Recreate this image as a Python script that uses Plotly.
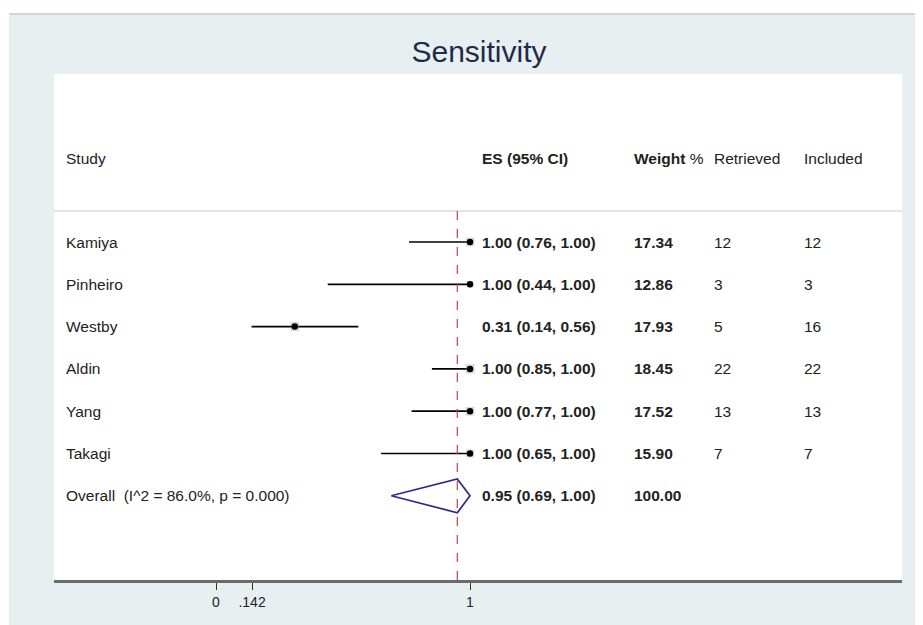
import plotly.graph_objects as go

# ---- data ----
studies = ["Kamiya", "Pinheiro", "Westby", "Aldin", "Yang", "Takagi"]
es = [1.00, 1.00, 0.31, 1.00, 1.00, 1.00]
ci_low = [0.76, 0.44, 0.14, 0.85, 0.77, 0.65]
ci_high = [1.00, 1.00, 0.56, 1.00, 1.00, 1.00]
weights = [17.34, 12.86, 17.93, 18.45, 17.52, 15.90]
retrieved = [12, 3, 5, 22, 13, 7]
included = [12, 3, 16, 22, 13, 7]
overall_label = "Overall  (I^2 = 86.0%, p = 0.000)"
overall_es = 0.95
overall_low = 0.69
overall_high = 1.00
overall_weight = 100.00
headers = ["Study", "ES (95% CI)", "Weight %", "Retrieved", "Included"]
tick_vals = [0, 0.142, 1]
tick_text = ["0", ".142", "1"]
title = "Sensitivity"

# ---- layout geometry (reference pixel coords; page has 8px body margin) ----
OFF = 8
W, H = 923, 625
L, R, T, B = 54 - OFF, 902 - OFF, 74 - OFF, 580 - OFF
FONT = "Liberation Sans, Arial, Helvetica, sans-serif"
FS = 15.5

x0_px, x1_px = 216 - OFF, 470 - OFF          # pixel positions of 0 and 1
ppu = x1_px - x0_px
xr = [(L - x0_px) / ppu, (R - x0_px) / ppu]

row_px0, row_step = 242 - OFF, 42.3     # first study row pixel & spacing
def px_to_row(p):
    return 1 + (p - OFF - row_px0) / row_step
def px_to_paper_x(p):
    return (p - OFF - L) / (R - L)
def px_to_paper_y(p):
    return (B - (p - OFF)) / (B - T)

yr = [px_to_row(580), px_to_row(74)]

n = len(studies)
rows = list(range(1, n + 1))
overall_row = n + 1
header_row = px_to_row(158)
sep_row = px_to_row(211)

fig = go.Figure()

# CI lines
for i in range(n):
    fig.add_trace(go.Scatter(
        x=[ci_low[i], ci_high[i]], y=[rows[i], rows[i]], mode="lines",
        line=dict(color="black", width=1.7), hoverinfo="skip", showlegend=False))

# weight boxes
fig.add_trace(go.Scatter(
    x=es, y=rows, mode="markers",
    marker=dict(symbol="square", color="rgba(150,150,150,0.5)",
                size=[w * 0.5 for w in weights], line=dict(width=0)),
    hoverinfo="skip", showlegend=False))
# point estimates
fig.add_trace(go.Scatter(
    x=es, y=rows, mode="markers",
    marker=dict(symbol="circle", color="black", size=6.5),
    hoverinfo="skip", showlegend=False))

# overall diamond
fig.add_trace(go.Scatter(
    x=[overall_low, overall_es, overall_high, overall_es, overall_low],
    y=[overall_row, overall_row - 0.4, overall_row, overall_row + 0.4, overall_row],
    mode="lines", line=dict(color="#2a2a8a", width=1.7),
    hoverinfo="skip", showlegend=False))

shapes = [
    # outer light background
    dict(type="rect", xref="paper", yref="paper",
         x0=px_to_paper_x(9), x1=px_to_paper_x(945),
         y0=px_to_paper_y(650), y1=px_to_paper_y(14),
         fillcolor="#e8eff1", line=dict(width=0), layer="below"),
    # white plot panel
    dict(type="rect", xref="paper", yref="paper", x0=0, x1=1, y0=0, y1=1,
         fillcolor="white", line=dict(width=0), layer="below"),
    # top grey rule
    dict(type="line", xref="paper", yref="paper",
         x0=px_to_paper_x(9), x1=px_to_paper_x(945),
         y0=px_to_paper_y(14), y1=px_to_paper_y(14),
         line=dict(color="#cfd6d9", width=2)),
    # header separator
    dict(type="line", xref="paper", yref="y", x0=0, x1=1, y0=sep_row, y1=sep_row,
         line=dict(color="#d8dcdd", width=1.5)),
    # dashed reference line at overall ES
    dict(type="line", xref="x", yref="y", x0=overall_es, x1=overall_es,
         y0=sep_row, y1=yr[0],
         line=dict(color="#c4404f", width=1.2, dash="dash")),
]

annotations = []
def txt(xpx, row, s, size=FS):
    annotations.append(dict(
        x=px_to_paper_x(xpx), xref="paper", y=row, yref="y", text=s,
        showarrow=False, xanchor="left", yanchor="middle",
        font=dict(family=FONT, size=size, color="#222222")))

col_study, col_es, col_w, col_ret, col_inc = 64, 480, 632, 712, 802
txt(col_study, header_row, headers[0])
txt(col_es, header_row, "<b>" + headers[1] + "</b>")
w_word, w_pct = headers[2].split(" ")
txt(col_w, header_row, "<b>" + w_word + "</b> " + w_pct)
txt(col_ret, header_row, headers[3])
txt(col_inc, header_row, headers[4])

for i in range(n):
    txt(col_study, rows[i], studies[i])
    txt(col_es, rows[i], f"<b>{es[i]:.2f} ({ci_low[i]:.2f}, {ci_high[i]:.2f})</b>")
    txt(col_w, rows[i], f"<b>{weights[i]:.2f}</b>")
    txt(col_ret, rows[i], str(retrieved[i]))
    txt(col_inc, rows[i], str(included[i]))

txt(col_study, overall_row, overall_label)
txt(col_es, overall_row, f"<b>{overall_es:.2f} ({overall_low:.2f}, {overall_high:.2f})</b>")
txt(col_w, overall_row, f"<b>{overall_weight:.2f}</b>")

fig.update_layout(
    width=W, height=H,
    margin=dict(l=L, r=W - R, t=T, b=H - B, pad=0),
    paper_bgcolor="white", plot_bgcolor="white",
    title=dict(text=title, x=(479 - OFF) / W, xanchor="center",
               y=1 - (51 - OFF) / H, yanchor="middle",
               font=dict(family=FONT, size=30, color="#1f2a4d")),
    xaxis=dict(range=xr, tickvals=tick_vals, ticktext=tick_text, ticks="outside",
               ticklen=7, tickwidth=1.3, tickcolor="#333333", showline=True,
               linecolor="#6b6b6b", linewidth=2.5, showgrid=False, zeroline=False,
               tickfont=dict(family=FONT, size=14, color="#222222"), fixedrange=True),
    yaxis=dict(range=yr, showticklabels=False, showgrid=False, zeroline=False,
               showline=False, ticks="", fixedrange=True),
    shapes=shapes, annotations=annotations, showlegend=False,
)

fig.write_html("out.html")
